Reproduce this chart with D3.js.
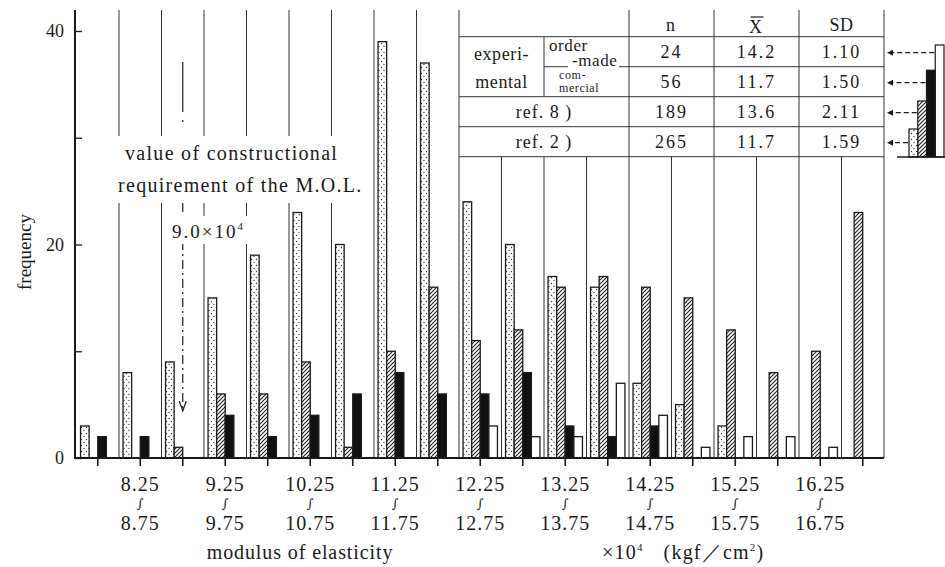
<!DOCTYPE html>
<html>
<head>
<meta charset="utf-8">
<script src="https://cdn.jsdelivr.net/npm/d3@7"></script>
<style>
body { margin: 0; background: #fff; }
svg text { font-family: "Liberation Serif", "Times New Roman", serif; fill: #1a1a1a; }
</style>
</head>
<body>
<svg id="chart" width="945" height="567"></svg>
<script>
'use strict';

// classes of 0.5 x10^4 kgf/cm2 (lower edge of each class)
var class_lower = [7.75, 8.25, 8.75, 9.25, 9.75, 10.25, 10.75, 11.25, 11.75, 12.25,
	12.75, 13.25, 13.75, 14.25, 14.75, 15.25, 15.75, 16.25, 16.75];

// tick labels under every second class
var label_top = ['8.25', '9.25', '10.25', '11.25', '12.25', '13.25', '14.25', '15.25', '16.25'];
var label_bottom = ['8.75', '9.75', '10.75', '11.75', '12.75', '13.75', '14.75', '15.75', '16.75'];

// frequencies, one value per class
var ref2_counts = [3, 8, 9, 15, 19, 23, 20, 39, 37, 24, 20, 17, 16, 7, 5, 3, 0, 0, 0];       // dotted
var ref8_counts = [0, 0, 1, 6, 6, 9, 1, 10, 16, 11, 12, 16, 17, 16, 15, 12, 8, 10, 23];      // hatched
var commercial_counts = [2, 2, 0, 4, 2, 4, 6, 8, 6, 6, 8, 3, 2, 3, 0, 0, 0, 0, 0];           // black
var order_made_counts = [0, 0, 0, 0, 0, 0, 0, 0, 0, 3, 2, 2, 7, 4, 1, 2, 2, 1, 0];           // white

var series_keys = ['ref2', 'ref8', 'commercial', 'order'];
var series_counts = {ref2: ref2_counts, ref8: ref8_counts, commercial: commercial_counts, order: order_made_counts};
var series_fill = {ref2: 'url(#dots)', ref8: 'url(#hatch)', commercial: '#111', order: '#fff'};

// statistics table
var table_n = ['24', '56', '189', '265'];
var table_mean = ['14.2', '11.7', '13.6', '11.7'];
var table_sd = ['1.10', '1.50', '2.11', '1.59'];
// legend sample bars, top row of table first
var legend_keys = ['order', 'commercial', 'ref8', 'ref2'];
var legend_sizes = [4, 3.1, 2, 1];

var y_ticks = [0, 10, 20, 30, 40];


var svg = d3.select('#chart');
var ink = '#1a1a1a';

// fill patterns
var defs = svg.append('defs');
var dots = defs.append('pattern').attr('id', 'dots')
	.attr('patternUnits', 'userSpaceOnUse').attr('width', 5).attr('height', 6);
dots.append('rect').attr('width', 5).attr('height', 6).attr('fill', '#fff');
dots.append('circle').attr('cx', 1.5).attr('cy', 1.5).attr('r', 0.65).attr('fill', '#333');
dots.append('circle').attr('cx', 4).attr('cy', 4.5).attr('r', 0.65).attr('fill', '#333');

var hatch = defs.append('pattern').attr('id', 'hatch')
	.attr('patternUnits', 'userSpaceOnUse').attr('width', 4).attr('height', 4);
hatch.append('rect').attr('width', 4).attr('height', 4).attr('fill', '#fff');
hatch.append('path').attr('d', 'M0,4 L4,0 M-1,1 L1,-1 M3,5 L5,3')
	.attr('stroke', '#222').attr('stroke-width', 1.1);

// scales
var x_scale = d3.scaleBand().domain(d3.range(class_lower.length)).range([76.5, 884]).padding(0);
var bar_scale = d3.scaleBand().domain(series_keys).range([-17.2, 17.2]);
var y_scale = d3.scaleLinear().domain([0, 40]).range([458, 31]);

function centre(i) { return x_scale(i) + x_scale.bandwidth() / 2; }

// table rows
var row_y = [36.7, 66.7, 96.7, 126.7, 156.7];
var table_left = x_scale(9);
var table_right = x_scale.range()[1];
var col_inner = x_scale(11);
var col_n = x_scale(13), col_mean = x_scale(15), col_sd = x_scale(17);

//===============================================================
// Class boundary lines
//===============================================================
var grid = svg.append('g').attr('stroke', '#333').attr('stroke-width', 1);
var text_gap = [136, 203];
for (var k = 1; k <= class_lower.length; k += 1) {
	var bx = k < class_lower.length ? x_scale(k) : table_right;
	var segments = [];
	if (bx < table_left - 1) {
		if (bx > 110 && bx < 340) segments = [[10, text_gap[0]], [text_gap[1], 458]];
		else segments = [[10, 458]];
	} else if ([9, 13, 15, 17, 19].indexOf(k) >= 0) {
		segments = [[10, 458]];
	} else if (k === 11) {
		segments = [[row_y[0], row_y[2]], [row_y[4], 458]];
	} else {
		segments = [[row_y[4], 458]];
	}
	segments.forEach(function(s) {
		grid.append('line').attr('x1', bx).attr('x2', bx).attr('y1', s[0]).attr('y2', s[1]);
	});
}

// table horizontal lines
grid.append('line').attr('x1', table_left).attr('x2', table_right).attr('y1', row_y[0]).attr('y2', row_y[0]);
grid.append('line').attr('x1', col_inner).attr('x2', 568).attr('y1', row_y[1]).attr('y2', row_y[1]);
grid.append('line').attr('x1', 619).attr('x2', table_right).attr('y1', row_y[1]).attr('y2', row_y[1]);
[2, 3, 4].forEach(function(r) {
	grid.append('line').attr('x1', table_left).attr('x2', table_right).attr('y1', row_y[r]).attr('y2', row_y[r]);
});

//===============================================================
// Bars
//===============================================================
var bars = svg.append('g');
series_keys.forEach(function(key) {
	var data = series_counts[key].map(function(v, i) { return {i: i, v: v}; })
		.filter(function(d) { return d.v > 0; });
	bars.selectAll('rect.' + key).data(data).enter().append('rect')
		.attr('class', key)
		.attr('x', function(d) { return centre(d.i) + bar_scale(key); })
		.attr('y', function(d) { return y_scale(d.v); })
		.attr('width', bar_scale.bandwidth())
		.attr('height', function(d) { return y_scale(0) - y_scale(d.v); })
		.attr('fill', series_fill[key])
		.attr('stroke', ink)
		.attr('stroke-width', 1.3);
});

//===============================================================
// Axes
//===============================================================
var y_axis = svg.append('g').attr('transform', 'translate(75,0)')
	.call(d3.axisLeft(y_scale).tickValues(y_ticks).tickSize(-7).tickPadding(11)
		.tickFormat(function(d) { return d % 20 === 0 ? d : ''; }));
y_axis.select('.domain').remove();
y_axis.selectAll('line').attr('stroke', ink).attr('stroke-width', 1.3);
y_axis.selectAll('text').attr('font-size', 18).attr('font-family', null).attr('fill', ink);
svg.append('line').attr('x1', 75).attr('x2', 75).attr('y1', 10).attr('y2', 459)
	.attr('stroke', ink).attr('stroke-width', 2);

var x_axis = svg.append('g').attr('transform', 'translate(0,458)')
	.call(d3.axisBottom(x_scale).tickSize(8).tickFormat(''));
x_axis.select('.domain').remove();
x_axis.selectAll('line').attr('stroke', ink).attr('stroke-width', 1.6);
svg.append('line').attr('x1', 74).attr('x2', table_right).attr('y1', 458).attr('y2', 458)
	.attr('stroke', ink).attr('stroke-width', 2);

// class labels
var labelled = class_lower.map(function(v, i) { return i; }).filter(function(i) { return i % 2 === 1; });
var xl = svg.append('g').attr('text-anchor', 'middle');
labelled.forEach(function(i, j) {
	var cx = centre(i);
	xl.append('text').attr('x', cx).attr('y', 491).attr('font-size', 20).attr('letter-spacing', 1).text(label_top[j]);
	xl.append('text').attr('x', cx).attr('y', 508).attr('font-size', 13)
		.style('font-family', '"DejaVu Serif", serif').style('fill', ink).text('\u222B');
	xl.append('text').attr('x', cx).attr('y', 530).attr('font-size', 20).attr('letter-spacing', 1).text(label_bottom[j]);
});

svg.append('text').attr('x', 300).attr('y', 559).attr('text-anchor', 'middle')
	.attr('font-size', 20).attr('letter-spacing', 0.9).text('modulus of elasticity');
var unit = svg.append('text').attr('x', 602).attr('y', 559).attr('font-size', 20).attr('letter-spacing', 1.2);
unit.append('tspan').text('\u00D710');
unit.append('tspan').attr('font-size', 11).attr('dy', -8).text('4');
unit.append('tspan').attr('dy', 8).attr('dx', 20).text('(kgf\uFF0Fcm');
unit.append('tspan').attr('font-size', 11).attr('dy', -8).text('2');
unit.append('tspan').attr('dy', 8).text(')');

svg.append('text').attr('transform', 'translate(31,252) rotate(-90)').attr('text-anchor', 'middle')
	.attr('font-size', 19).text('frequency');

//===============================================================
// Note on the construction requirement
//===============================================================
var ax = centre(2);
var arrow = svg.append('g').attr('stroke', ink).attr('stroke-width', 1.2).attr('fill', 'none');
arrow.append('line').attr('x1', ax).attr('x2', ax).attr('y1', 62).attr('y2', 127)
	.attr('stroke-dasharray', '50,8,2,8');
arrow.append('line').attr('x1', ax).attr('x2', ax).attr('y1', 203).attr('y2', 410)
	.attr('stroke-dasharray', '9,4,2,4');
arrow.append('path').attr('d', 'M' + (ax - 3.5) + ',401 L' + ax + ',411 L' + (ax + 3.5) + ',401');

var note = svg.append('g').attr('font-size', 20).attr('letter-spacing', 1.3);
note.append('text').attr('x', 125).attr('y', 160).text('value of constructional');
note.append('text').attr('x', 118).attr('y', 192).text('requirement of the M.O.L.');
svg.append('rect').attr('x', 170).attr('y', 216).attr('width', 80).attr('height', 28).attr('fill', '#fff');
var nine = svg.append('text').attr('x', 172).attr('y', 238).attr('font-size', 19).attr('letter-spacing', 2);
nine.append('tspan').text('9.0\u00D710');
nine.append('tspan').attr('font-size', 11).attr('dy', -8).text('4');

//===============================================================
// Table text
//===============================================================
var tt = svg.append('g').attr('text-anchor', 'middle').attr('font-size', 18).attr('letter-spacing', 2);
var mid_n = (col_n + col_mean) / 2, mid_mean = (col_mean + col_sd) / 2, mid_sd = (col_sd + table_right) / 2;
tt.append('text').attr('x', mid_n).attr('y', 31).text('n');
tt.append('text').attr('x', mid_mean).attr('y', 33).text('X');
tt.append('line').attr('x1', mid_mean - 6).attr('x2', mid_mean + 7).attr('y1', 17).attr('y2', 17)
	.attr('stroke', ink).attr('stroke-width', 1.2);
tt.append('text').attr('x', mid_sd).attr('y', 31).attr('letter-spacing', 0.5).text('SD');
table_n.forEach(function(v, r) {
	var base = (row_y[r] + row_y[r + 1]) / 2 + 6.5;
	tt.append('text').attr('x', mid_n).attr('y', base).text(v);
	tt.append('text').attr('x', mid_mean).attr('y', base).text(table_mean[r]);
	tt.append('text').attr('x', mid_sd).attr('y', base).text(table_sd[r]);
});
var mid_label = (table_left + col_n) / 2;
tt.append('text').attr('x', mid_label).attr('y', 118).attr('letter-spacing', 1).text('ref. 8 )');
tt.append('text').attr('x', mid_label).attr('y', 148).attr('letter-spacing', 1).text('ref. 2 )');

var lab = svg.append('g').attr('font-size', 18).attr('letter-spacing', 0.6);
lab.append('text').attr('x', (table_left + col_inner) / 2).attr('y', 60).attr('text-anchor', 'middle').text('experi-');
lab.append('text').attr('x', (table_left + col_inner) / 2).attr('y', 88).attr('text-anchor', 'middle').text('mental');
lab.append('text').attr('x', 549).attr('y', 51).attr('font-size', 17).text('order');
lab.append('text').attr('x', 572).attr('y', 66).attr('font-size', 17).text('-made');
lab.append('text').attr('x', 559).attr('y', 79).attr('font-size', 12).text('com-');
lab.append('text').attr('x', 559).attr('y', 92).attr('font-size', 12).text('mercial');

//===============================================================
// Legend bars with arrows pointing at the table rows
//===============================================================
var legend_x = d3.scaleBand().domain(series_keys).range([909, 944]);
var legend_h = d3.scaleLinear().domain([0, 4]).range([0, 112]);
var legend_base = 157;
var lg = svg.append('g');
legend_keys.forEach(function(key, r) {
	var h = legend_h(legend_sizes[r]);
	lg.append('rect').attr('x', legend_x(key)).attr('y', legend_base - h)
		.attr('width', legend_x.bandwidth()).attr('height', h)
		.attr('fill', series_fill[key]).attr('stroke', ink).attr('stroke-width', 1.2);
	var ay = (row_y[r] + row_y[r + 1]) / 2 + 1;
	lg.append('line').attr('x1', legend_x(key) - 1).attr('x2', 889).attr('y1', ay).attr('y2', ay)
		.attr('stroke', ink).attr('stroke-width', 1.3).attr('stroke-dasharray', '5,3');
	lg.append('path').attr('d', 'M893,' + (ay - 3) + ' L887,' + ay + ' L893,' + (ay + 3) + 'Z')
		.attr('fill', ink);
});
lg.append('line').attr('x1', 897).attr('x2', 945).attr('y1', legend_base).attr('y2', legend_base)
	.attr('stroke', ink).attr('stroke-width', 1.5);
</script>
</body>
</html>
